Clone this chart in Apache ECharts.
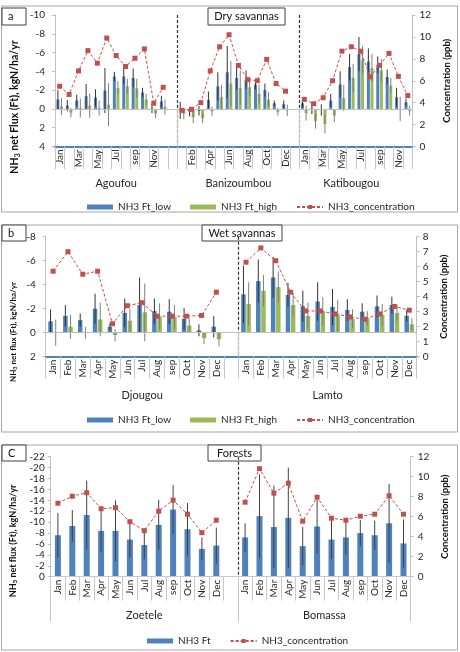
<!DOCTYPE html>
<html><head><meta charset="utf-8">
<script src="https://cdn.jsdelivr.net/npm/echarts@6/dist/echarts.min.js"></script>
<style>html,body{margin:0;padding:0;background:#fff}#c{width:460px;height:652px}</style>
</head><body><div id="c"></div>
<script>
// ---------------- DATA ----------------
const months = ['Jan','Feb','Mar','Apr','May','Jun','Jul','Aug','sep','Oct','Nov','Dec'];
const sitesA = ['Agoufou','Banizoumbou','Katibougou'];
const sitesB = ['Djougou','Lamto'];
const sitesC = ['Zoetele','Bomassa'];
const fluxTicksA = [-10, 4, 2];   // min, max, interval
const concTicksA = [0, 12, 2];
const fluxTicksB = [-8, 2, 2];
const concTicksB = [0, 8, 1];
const fluxTicksC = [-22, 0, 2];
const concTicksC = [0, 12, 2];

// Panel a : Dry savannas
const agoufouLow     = [-1.0, -0.35, -0.9, -1.35, -1.2, -1.95, -3.45, -3.45, -3.3, -1.75, -0.05, -0.8];
const agoufouLowErr  = [1.0, 0.6, 0.6, 1.3, 0.9, 2.4, 0.5, 0.8, 1.0, 0.5, 0.5, 0.6];
const agoufouHigh    = [-0.25, 0.4, -0.1, -0.35, -0.1, -0.45, -2.25, -2.4, -2.2, -1.0, 0.5, -0.2];
const agoufouHighErr = [0.9, 0.5, 1.0, 1.3, 0.8, 2.3, 0.7, 0.8, 1.0, 0.6, 0.5, 0.8];
const agoufouConc    = [5.5, 4.75, 6.9, 8.75, 7.6, 9.9, 8.3, 7.3, 8.05, 8.9, 3.95, 5.4];

const banizLow     = [0.15, 0.3, 0.2, -0.95, -2.4, -3.9, -3.3, -3.1, -2.6, -2.0, -0.6, -0.5];
const banizLowErr  = [0.9, 0.5, 0.5, 0.9, 1.5, 2.8, 1.2, 1.0, 0.5, 0.7, 0.3, 0.4];
const banizHigh    = [0.5, 0.9, 1.0, 0.25, -1.25, -2.7, -2.25, -2.3, -1.6, -1.0, 0.3, 0.15];
const banizHighErr = [0.6, 0.6, 0.5, 0.5, 1.3, 2.4, 1.8, 1.0, 1.0, 0.8, 0.4, 0.6];
const banizConc    = [3.3, 3.4, 4.0, 6.9, 9.1, 10.2, 7.4, 6.1, 6.0, 7.95, 5.75, 5.05];

const katibLow     = [-0.6, -0.05, 0.1, -0.9, -2.6, -4.45, -5.85, -5.05, -4.7, -3.4, -1.25, -0.7];
const katibLowErr  = [0.4, 0.6, 0.6, 0.7, 1.4, 1.4, 1.8, 1.4, 0.9, 0.8, 1.0, 0.4];
const katibHigh    = [0.45, 1.3, 1.6, 0.7, -1.15, -3.3, -5.2, -4.35, -4.1, -2.5, 0.0, 0.2];
const katibHighErr = [0.8, 0.8, 1.0, 0.7, 1.4, 1.5, 1.5, 1.5, 1.2, 0.8, 1.3, 0.5];
const katibConc    = [4.3, 3.9, 4.45, 6.0, 8.7, 9.1, 8.7, 6.35, 7.4, 8.5, 6.4, 4.65];

// Panel b : Wet savannas
const djougouLow     = [-0.95, -1.4, -1.05, -2.0, -0.5, -1.65, -2.3, -1.8, -1.75, -1.15, -0.2, -0.5];
const djougouLowErr  = [1.0, 0.9, 0.55, 1.25, 0.3, 1.2, 2.3, 1.05, 1.05, 0.9, 0.5, 0.9];
const djougouHigh    = [0.0, -0.5, 0.0, -1.1, 0.2, -1.0, -1.7, -1.35, -1.3, -0.6, 0.45, 0.55];
const djougouHighErr = [1.1, 1.0, 0.5, 1.4, 0.5, 1.0, 2.4, 1.1, 1.0, 0.6, 0.5, 0.6];
const djougouConc    = [5.7, 7.0, 5.5, 5.7, 2.2, 3.4, 3.6, 2.7, 2.7, 2.7, 2.75, 4.3];

const lamtoLow     = [-3.2, -4.3, -4.6, -3.15, -2.2, -2.6, -2.15, -1.9, -1.75, -2.2, -2.3, -1.4];
const lamtoLowErr  = [2.4, 1.8, 1.7, 1.0, 1.3, 1.6, 1.5, 0.9, 0.7, 0.9, 0.7, 0.5];
const lamtoHigh    = [-2.4, -3.5, -3.8, -2.3, -1.4, -1.75, -1.45, -1.15, -1.2, -1.5, -1.65, -0.7];
const lamtoHighErr = [1.8, 1.3, 1.3, 1.0, 1.1, 1.2, 1.3, 0.8, 0.6, 0.9, 0.7, 0.5];
const lamtoConc    = [6.3, 7.25, 6.4, 4.3, 3.05, 3.05, 2.85, 2.65, 2.5, 2.85, 3.35, 3.1];

// Panel c : Forests
const zoeteleFt   = [-7.6, -9.3, -11.3, -8.4, -8.4, -6.8, -5.8, -9.5, -12.3, -8.7, -5.1, -5.7];
const zoeteleErr  = [4.1, 2.9, 6.3, 3.9, 5.6, 3.3, 2.6, 4.6, 4.5, 4.8, 2.1, 3.3];
const zoeteleConc = [7.35, 8.05, 8.4, 6.8, 6.9, 5.5, 4.6, 6.55, 7.65, 6.25, 4.4, 5.65];
const bomassaFt   = [-7.2, -11.1, -9.1, -10.8, -5.6, -9.2, -6.8, -7.2, -8.0, -7.6, -9.8, -6.1];
const bomassaErr  = [2.6, 7.7, 7.6, 9.2, 3.5, 5.0, 3.5, 3.1, 2.4, 2.7, 7.2, 4.4];
const bomassaConc = [7.45, 10.8, 8.35, 9.35, 5.55, 7.95, 5.85, 5.65, 6.05, 6.25, 8.1, 6.25];

// ---------------- HELPERS ----------------
const FONT = 'Lato, "Liberation Sans", sans-serif';
const BLUE = '#4F81BD', GREEN = '#9BBB59', RED = '#C0504D', GRID_GREY = '#c8c8c8';
function joinGroups(arrs, filler) {
  let out = [];
  arrs.forEach((a, k) => { out = out.concat(a); if (k < arrs.length - 1) out.push(filler); });
  return out;
}
function errData(vals, errs) {
  const d = [];
  vals.forEach((v, i) => { if (v != null) d.push([i, v, errs[i]]); });
  return d;
}
function groupAxisData(len, names, centers) {
  const d = new Array(len).fill('');
  names.forEach((n, k) => d[centers[k]] = n);
  return d;
}

const catA = joinGroups([months, months, months], '');
const catB = joinGroups([months, months], '');
const catC = joinGroups([months, months], '');

// Group axis (boundaryGap:false, half-category resolution)
const grpA = groupAxisData(catA.length * 2 + 1, sitesA, [13, 39, 63]);
const grpB = groupAxisData(catB.length * 2 + 1, sitesB, [13, 38]);
const grpC = groupAxisData(catC.length * 2 + 1, sitesC, [13, 38]);
const bndA = [0, 26, 52, 76], sepA = [26, 52];
const bndB = [0, 26, 50], sepB = [26];
const bndC = [0, 26, 50], sepC = [26];

const grids = [
  {left: 55, top: 15, width: 367.7, height: 131.5},
  {left: 45.7, top: 236.7, width: 371, height: 120},
  {left: 50.7, top: 456.7, width: 360, height: 120}
];

function monthAxis(g, data, interval, lineColor, lineW, tickLen) {
  return {
    type: 'category', gridIndex: g, data: data, position: 'bottom', boundaryGap: true,
    axisLine: {show: true, onZero: false, lineStyle: {color: lineColor, width: lineW}},
    axisTick: {show: true, interval: 0, length: tickLen, lineStyle: {color: GRID_GREY}},
    axisLabel: {rotate: 90, interval: interval, fontSize: 10, color: '#262626', margin: 3, fontFamily: FONT},
    splitLine: {show: false}, z: 5
  };
}
function groupAxis(g, data, bnd, sep, tickLen, margin) {
  return {
    type: 'category', gridIndex: g, data: data, position: 'bottom', boundaryGap: false,
    axisLine: {show: false},
    axisTick: {show: true, length: tickLen, interval: (i) => bnd.indexOf(i) >= 0, lineStyle: {color: GRID_GREY}},
    axisLabel: {interval: 0, fontSize: 11, color: '#262626', margin: margin, fontFamily: FONT},
    splitLine: {show: true, interval: (i) => sep.indexOf(i) >= 0, lineStyle: {color: '#333', type: [3, 2], width: 1.2}}
  };
}
function valAxis(g, ticks, inverse, pos, margin, name, nameGap) {
  return {
    type: 'value', gridIndex: g, min: ticks[0], max: ticks[1], interval: ticks[2], inverse: inverse,
    position: pos,
    axisLine: {show: true, lineStyle: {color: '#bfbfbf'}},
    axisTick: {show: true, length: 3, lineStyle: {color: '#bfbfbf'}},
    axisLabel: {fontSize: 10, color: '#262626', margin: margin, fontFamily: FONT},
    splitLine: {show: false},
    name: name || '', nameLocation: 'middle', nameRotate: 90, nameGap: nameGap || 0,
    nameTextStyle: {fontSize: 9.5, fontWeight: 'bold', color: '#111', fontFamily: FONT}
  };
}

const zeroLine = {
  silent: true, symbol: 'none', animation: false,
  label: {show: false},
  lineStyle: {color: '#c0c0c0', type: 'solid', width: 1},
  data: [{yAxis: 0}]
};

function barSeries(name, xi, yi, data, color, w, gap, mark) {
  const s = {name: name, type: 'bar', xAxisIndex: xi, yAxisIndex: yi, data: data,
    barWidth: w, barGap: gap, itemStyle: {color: color}, z: 2, animation: false};
  if (mark) s.markLine = zeroLine;
  return s;
}
function errSeries(name, xi, yi, data, offset, color) {
  return {
    name: name, type: 'custom', xAxisIndex: xi, yAxisIndex: yi, data: data, z: 3, silent: true,
    encode: {x: 0, y: 1}, animation: false,
    renderItem: function (params, api) {
      const i = api.value(0), v = api.value(1), e = api.value(2);
      const p1 = api.coord([i, v - e]), p2 = api.coord([i, v + e]);
      const x = p1[0] + offset;
      return {type: 'line', shape: {x1: x, y1: p1[1], x2: x, y2: p2[1]},
        style: {stroke: color, lineWidth: 1}};
    }
  };
}
function concSeries(xi, yi, data) {
  return {
    name: 'NH3_concentration', type: 'line', xAxisIndex: xi, yAxisIndex: yi, data: data,
    connectNulls: false, symbol: 'rect', symbolSize: 5, z: 6, animation: false,
    lineStyle: {color: RED, width: 1, type: [3, 2]},
    itemStyle: {color: RED}
  };
}

// Panel a full arrays
const aLow = joinGroups([agoufouLow, banizLow, katibLow], null);
const aLowE = joinGroups([agoufouLowErr, banizLowErr, katibLowErr], null);
const aHigh = joinGroups([agoufouHigh, banizHigh, katibHigh], null);
const aHighE = joinGroups([agoufouHighErr, banizHighErr, katibHighErr], null);
const aConc = joinGroups([agoufouConc, banizConc, katibConc], null);
// Panel b
const bLow = joinGroups([djougouLow, lamtoLow], null);
const bLowE = joinGroups([djougouLowErr, lamtoLowErr], null);
const bHigh = joinGroups([djougouHigh, lamtoHigh], null);
const bHighE = joinGroups([djougouHighErr, lamtoHighErr], null);
const bConc = joinGroups([djougouConc, lamtoConc], null);
// Panel c
const cFt = joinGroups([zoeteleFt, bomassaFt], null);
const cFtE = joinGroups([zoeteleErr, bomassaErr], null);
const cConc = joinGroups([zoeteleConc, bomassaConc], null);

const wA = 3, gA = 0.2, wB = 4.5, gB = 0.15;
const offA = (wA + wA * gA) / 2, offB = (wB + wB * gB) / 2;

function titleText(x, y, txt, size) {
  return {
    type: 'text', x: x, y: y, rotation: Math.PI / 2,
    style: {
      text: txt, fontFamily: FONT, fontSize: size, fontWeight: 'bold', fill: '#111',
      align: 'center', verticalAlign: 'middle',
      rich: {s: {fontSize: size * 0.7, fontWeight: 'bold', fontFamily: FONT, padding: [size * 0.45, 0, 0, 0]}}
    }
  };
}
function labelBox(x, y, w, h, txt, center) {
  return {
    type: 'group', children: [
      {type: 'rect', shape: {x: x, y: y, width: w, height: h}, style: {fill: '#fff', stroke: '#404040', lineWidth: 1}},
      {type: 'text', x: center ? x + w / 2 : x + 6, y: y + h / 2,
        style: {text: txt, fontFamily: FONT, fontSize: 11, fill: '#111', align: center ? 'center' : 'left', verticalAlign: 'middle'}}
    ]
  };
}
function panelRect(y1, y2) {
  return {type: 'rect', shape: {x: 1.5, y: y1, width: 456, height: y2 - y1},
    style: {fill: 'none', stroke: '#a6a6a6', lineWidth: 1}, z: -1};
}

const legendCommon = {itemWidth: 26, itemHeight: 5, itemGap: 19,
  textStyle: {fontSize: 10, color: '#262626', fontFamily: FONT}, selectedMode: false};

const option = {
  backgroundColor: '#fff',
  animation: false,
  grid: grids,
  xAxis: [
    monthAxis(0, catA, 1, BLUE, 2, 22.5),
    groupAxis(0, grpA, bndA, sepA, 45, 31),
    monthAxis(1, catB, 0, BLUE, 2, 22),
    groupAxis(1, grpB, bndB, sepB, 44, 33),
    monthAxis(2, catC, 0, '#c8c8c8', 1, 24),
    groupAxis(2, grpC, bndC, sepC, 45, 33)
  ],
  yAxis: [
    valAxis(0, fluxTicksA, true, 'left', 10),
    valAxis(0, concTicksA, false, 'right', 7, 'Concentration (ppb)', 24),
    valAxis(1, fluxTicksB, true, 'left', 10),
    valAxis(1, concTicksB, false, 'right', 6, 'Concentration (ppb)', 20),
    valAxis(2, fluxTicksC, true, 'left', 6),
    valAxis(2, concTicksC, false, 'right', 7, 'Concentration (ppb)', 27)
  ],
  legend: [
    Object.assign({left: 82, top: 197, data: [{name: 'NH3 Ft_low', icon: 'rect'}, {name: 'NH3 Ft_high', icon: 'rect'}, 'NH3_concentration']}, legendCommon),
    Object.assign({left: 82, top: 410, data: [{name: 'NH3 Ft_low', icon: 'rect'}, {name: 'NH3 Ft_high', icon: 'rect'}, 'NH3_concentration']}, legendCommon),
    Object.assign({left: 142, top: 631, data: [{name: 'NH3 Ft', icon: 'rect'}, 'NH3_concentration']}, legendCommon)
  ],
  graphic: [
    panelRect(6, 212), panelRect(225, 432), panelRect(445, 650),
    labelBox(2, 8, 24, 17, 'a', false),
    labelBox(208, 8, 77, 17, 'Dry savannas', true),
    labelBox(2, 225, 24, 16, 'b', false),
    labelBox(202, 225, 80, 16, 'Wet savannas', true),
    labelBox(2, 445, 24, 16, 'C', false),
    labelBox(208, 445, 53, 16, 'Forests', true),
    titleText(15, 107, 'NH{s|3} net Flux (Ft), kgN/ha/yr', 10.5),
    titleText(13, 332, 'NH{s|3} net flux (Ft), kgN/ha/yr', 8),
    titleText(13, 541, 'NH{s|3} net flux (Ft), kgN/ha/yr', 9)
  ],
  series: [
    barSeries('NH3 Ft_low', 0, 0, aLow, BLUE, wA, (gA * 100) + '%', true),
    barSeries('NH3 Ft_high', 0, 0, aHigh, GREEN, wA, (gA * 100) + '%', false),
    errSeries('errLowA', 0, 0, errData(aLow, aLowE), -offA, '#333'),
    errSeries('errHighA', 0, 0, errData(aHigh, aHighE), offA, '#7f7f7f'),
    concSeries(0, 1, aConc),

    barSeries('NH3 Ft_low', 2, 2, bLow, BLUE, wB, (gB * 100) + '%', true),
    barSeries('NH3 Ft_high', 2, 2, bHigh, GREEN, wB, (gB * 100) + '%', false),
    errSeries('errLowB', 2, 2, errData(bLow, bLowE), -offB, '#333'),
    errSeries('errHighB', 2, 2, errData(bHigh, bHighE), offB, '#7f7f7f'),
    concSeries(2, 3, bConc),

    barSeries('NH3 Ft', 4, 4, cFt, BLUE, 6, '20%', false),
    errSeries('errC', 4, 4, errData(cFt, cFtE), 0, '#404040'),
    concSeries(4, 5, cConc)
  ]
};

const chart = echarts.init(document.getElementById('c'), null, {renderer: 'canvas'});
chart.setOption(option);
</script></body></html>
